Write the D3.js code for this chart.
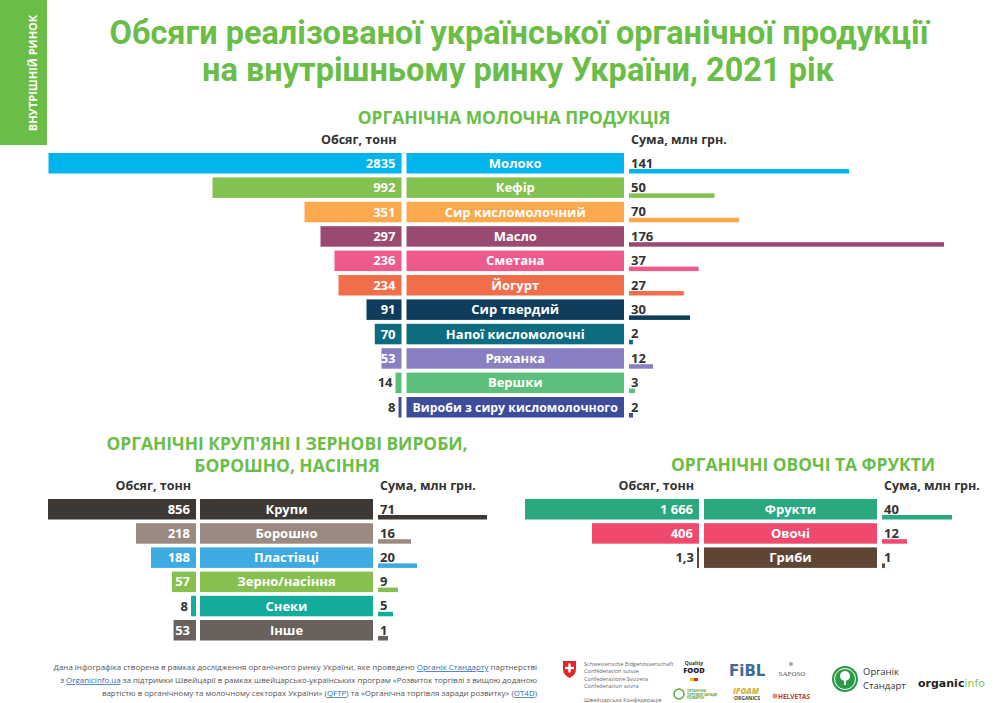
<!DOCTYPE html>
<html>
<head>
<meta charset="utf-8">
<script src="https://cdn.jsdelivr.net/npm/d3@7"></script>
<style>
  body { margin: 0; background: #fff; }
  svg { display: block; }
</style>
</head>
<body>
<svg id="chart" width="1000" height="703"></svg>
<script>
// --- Data ---
const dairyCats = ["Молоко", "Кефір", "Сир кисломолочний", "Масло", "Сметана", "Йогурт",
  "Сир твердий", "Напої кисломолочні", "Ряжанка", "Вершки", "Вироби з сиру кисломолочного"];
const dairyVolume = [2835, 992, 351, 297, 236, 234, 91, 70, 53, 14, 8];
const dairySum = [141, 50, 70, 176, 37, 27, 30, 2, 12, 3, 2];
const dairyColors = ["#00b4ec", "#83c150", "#fba94c", "#9a4a70", "#ef5a8d", "#f26e4b",
  "#0f3c5d", "#0e6c80", "#8a7fc3", "#5dbf7c", "#3d4c9b"];

const grainCats = ["Крупи", "Борошно", "Пластівці", "Зерно/насіння", "Снеки", "Інше"];
const grainVolume = [856, 218, 188, 57, 8, 53];
const grainSum = [71, 16, 20, 9, 5, 1];
const grainColors = ["#3e3834", "#9a8a82", "#3eaae2", "#86c150", "#13ac9a", "#6a615c"];

const fruitCats = ["Фрукти", "Овочі", "Гриби"];
const fruitVolume = [1666, 406, 1.3];
const fruitSum = [40, 12, 1];
const fruitColors = ["#2aa880", "#ef4a6e", "#5f4535"];

const GREEN = "#6abd46";
const FONT = "'Open Sans', 'Noto Sans', sans-serif";

const ukLocale = d3.formatLocale({ decimal: ",", thousands: "\u00a0", grouping: [3], currency: ["", ""] });

const svg = d3.select("#chart");

// side band
svg.append("rect").attr("x", 0).attr("y", 0).attr("width", 47).attr("height", 145).attr("fill", GREEN);
svg.append("text")
  .attr("transform", "translate(37,73) rotate(-90)")
  .attr("text-anchor", "middle")
  .attr("font-family", FONT).attr("font-weight", 700).attr("font-size", 11)
  .attr("fill", "#fff")
  .text("ВНУТРІШНІЙ РИНОК");

// main title
const title = svg.append("g").attr("font-family", "Roboto, sans-serif").attr("font-weight", 700)
  .attr("font-size", 32.5).attr("fill", GREEN).attr("text-anchor", "middle");
title.append("text").attr("x", 519).attr("y", 44).text("Обсяги реалізованої української органічної продукції");
title.append("text").attr("x", 518).attr("y", 81).text("на внутрішньому ринку України, 2021 рік");

// one butterfly block: volume bars to the left, label box, thin sum bars to the right
function drawBlock(opt) {
  const g = svg.append("g").attr("font-family", FONT);
  const n = opt.cats.length;
  const y = d3.scaleBand().domain(d3.range(n))
    .range([opt.top, opt.top + opt.step * (n - 1) + opt.barH])
    .paddingInner(1 - opt.barH / opt.step).paddingOuter(0);
  const bh = y.bandwidth();

  // the infographic's bars are hand-sized, so each block gets a piecewise scale
  const xl = d3.scaleLinear().domain(opt.volDomain).range(opt.volRange).clamp(true);
  const xr = d3.scaleLinear().domain(opt.sumDomain).range(opt.sumRange).clamp(true);
  const fmt = opt.fmt;

  // title lines
  opt.titleLines.forEach((t, i) => {
    g.append("text").attr("x", opt.titleX).attr("y", opt.titleY + i * 22)
      .attr("text-anchor", "middle").attr("font-weight", 700).attr("font-size", 17.4)
      .attr("fill", GREEN).text(t);
  });

  // column headers
  g.append("text").attr("x", opt.leftEnd - 5).attr("y", opt.top - 9)
    .attr("text-anchor", "end").attr("font-weight", 700).attr("font-size", 12.5)
    .attr("fill", "#333").text("Обсяг, тонн");
  g.append("text").attr("x", opt.rightStart + 2).attr("y", opt.top - 9)
    .attr("font-weight", 700).attr("font-size", 12.5)
    .attr("fill", "#333").text("Сума, млн грн.");

  const rows = g.selectAll("g.row").data(opt.cats.map((c, i) => ({
    cat: c, vol: opt.vol[i], sum: opt.sum[i], color: opt.colors[i], i
  }))).join("g").attr("class", "row")
    .attr("transform", d => `translate(0,${y(d.i)})`);

  // volume bar
  rows.append("rect")
    .attr("x", d => opt.leftEnd - xl(d.vol)).attr("y", 0)
    .attr("width", d => xl(d.vol)).attr("height", bh)
    .attr("fill", d => d.color);
  rows.append("text")
    .attr("x", d => xl(d.vol) > 18 ? opt.leftEnd - 6 : opt.leftEnd - xl(d.vol) - 3)
    .attr("y", bh / 2 + 4.5)
    .attr("text-anchor", "end").attr("font-weight", 700).attr("font-size", 13)
    .attr("fill", d => xl(d.vol) > 18 ? "#fff" : "#333")
    .text(d => fmt(d.vol));

  // category box
  const boxW = opt.labelX1 - opt.labelX0;
  rows.append("rect")
    .attr("x", opt.labelX0).attr("y", 0)
    .attr("width", boxW).attr("height", bh)
    .attr("fill", d => d.color);
  rows.append("text")
    .attr("x", (opt.labelX0 + opt.labelX1) / 2).attr("y", bh / 2 + 4.5)
    .attr("text-anchor", "middle").attr("font-weight", 700).attr("font-size", 13)
    .attr("fill", "#fff").text(d => d.cat)
    .each(function () {
      // shrink long names so they keep a small margin inside the box
      const len = this.getComputedTextLength();
      if (len > boxW - 12) d3.select(this).attr("font-size", 13 * (boxW - 12) / len);
    });

  // sum bar (thin, on the bottom edge)
  rows.append("rect")
    .attr("x", opt.rightStart).attr("y", bh - 4.5)
    .attr("width", d => Math.max(3, xr(d.sum))).attr("height", 4.5)
    .attr("fill", d => d.color);
  rows.append("text")
    .attr("x", opt.rightStart + 2).attr("y", bh - 6)
    .attr("font-weight", 700).attr("font-size", 13)
    .attr("fill", "#333").text(d => ukLocale.format("~g")(d.sum));
}

drawBlock({
  cats: dairyCats, vol: dairyVolume, sum: dairySum, colors: dairyColors,
  top: 153, step: 24.4, barH: 20.5,
  leftEnd: 401.5, labelX0: 406.5, labelX1: 624, rightStart: 629,
  volDomain: [0, 8, 14, 53, 91, 234, 236, 297, 351, 992, 2835],
  volRange: [0, 3, 6, 20, 35, 63, 67, 81, 97, 189, 353],
  sumDomain: [0, 3, 12, 30, 70, 141, 176],
  sumRange: [0, 6, 24, 61, 110, 220, 315],
  fmt: ukLocale.format("~g"),
  titleLines: ["ОРГАНІЧНА МОЛОЧНА ПРОДУКЦІЯ"], titleX: 514, titleY: 124
});

drawBlock({
  cats: grainCats, vol: grainVolume, sum: grainSum, colors: grainColors,
  top: 499, step: 24.2, barH: 20.5,
  leftEnd: 196, labelX0: 200, labelX1: 373, rightStart: 378,
  volDomain: [0, 8, 57, 188, 218, 856],
  volRange: [0, 5, 24, 45, 60, 148],
  sumDomain: [0, 1, 9, 16, 20, 71],
  sumRange: [0, 10, 20, 33, 39, 109],
  fmt: ukLocale.format("~g"),
  titleLines: ["ОРГАНІЧНІ КРУП'ЯНІ І ЗЕРНОВІ ВИРОБИ,", "БОРОШНО, НАСІННЯ"], titleX: 287, titleY: 450
});

drawBlock({
  cats: fruitCats, vol: fruitVolume, sum: fruitSum, colors: fruitColors,
  top: 499, step: 24.2, barH: 20.5,
  leftEnd: 699, labelX0: 704, labelX1: 877, rightStart: 882,
  volDomain: [0, 1.3, 406, 1666],
  volRange: [0, 2, 107, 174],
  sumDomain: [0, 1, 12, 40],
  sumRange: [0, 2, 25, 70],
  fmt: ukLocale.format(",~g"),
  titleLines: ["ОРГАНІЧНІ ОВОЧІ ТА ФРУКТИ"], titleX: 803, titleY: 471
});

// --- footer note ---
const note = [
  [["Дана інфографіка створена в рамках дослідження органічного ринку України, яке проведено "], ["Органік Стандарту", 1], [" партнерстві"]],
  [["з "], ["Organicinfo.ua", 1], [" за підтримки Швейцарії в рамках швейцарсько-українських програм «Розвиток торгівлі з вищою доданою"]],
  [["вартістю в органічному та молочному секторах України» ("], ["QFTP", 1], [") та «Органічна торгівля заради розвитку» ("], ["OT4D", 1], [")"]]
];
const noteG = svg.append("g").attr("font-family", FONT).attr("font-size", 7.95).attr("fill", "#555");
note.forEach((line, i) => {
  const t = noteG.append("text").attr("x", 537).attr("y", 670 + i * 13).attr("text-anchor", "end");
  line.forEach(([s, link]) => {
    const ts = t.append("tspan").text(s);
    if (link) ts.attr("fill", "#2f6db5").attr("text-decoration", "underline");
  });
});

// --- partner logos (simplified) ---
const logos = svg.append("g").attr("font-family", FONT);
logos.append("path").attr("d", "M563,661 h13 v8 q0,6 -6.5,9 q-6.5,-3 -6.5,-9 z").attr("fill", "#e3242b");
logos.append("rect").attr("x", 568.3).attr("y", 663.5).attr("width", 2.4).attr("height", 9).attr("fill", "#fff");
logos.append("rect").attr("x", 565).attr("y", 666.8).attr("width", 9).attr("height", 2.4).attr("fill", "#fff");
["Schweizerische Eidgenossenschaft", "Confédération suisse", "Confederazione Svizzera", "Confederaziun svizra"]
  .forEach((s, i) => logos.append("text").attr("x", 584).attr("y", 666 + i * 7.3)
    .attr("font-size", 5.6).attr("fill", "#666").text(s));
logos.append("text").attr("x", 584).attr("y", 702).attr("font-size", 5.6).attr("fill", "#666").text("Швейцарська Конфедерація");

logos.append("text").attr("x", 694).attr("y", 665).attr("text-anchor", "middle").attr("font-size", 5).attr("font-weight", 700).attr("fill", "#333").text("Quality");
logos.append("text").attr("x", 694).attr("y", 673).attr("text-anchor", "middle").attr("font-size", 7.5).attr("font-weight", 800).attr("fill", "#222").text("FOOD");
logos.append("rect").attr("x", 690).attr("y", 678).attr("width", 4).attr("height", 3).attr("fill", "#f2c500");
logos.append("rect").attr("x", 694).attr("y", 678).attr("width", 4).attr("height", 3).attr("fill", "#d62b2b");
logos.append("circle").attr("cx", 679).attr("cy", 694).attr("r", 5).attr("fill", "none").attr("stroke", "#5aa83c").attr("stroke-width", 1.5);
["ОРГАНІЧНА", "ТОРГІВЛЯ ЗАРАДИ", "РОЗВИТКУ"].forEach((s, i) =>
  logos.append("text").attr("x", 687).attr("y", 692 + i * 3.5).attr("font-size", 3.2).attr("font-weight", 700).attr("fill", "#5aa83c").text(s));

logos.append("text").attr("x", 729).attr("y", 676).attr("font-family", "'DejaVu Sans', sans-serif").attr("font-size", 15).attr("font-weight", 700).attr("fill", "#3d6b98").text("FiBL");
logos.append("text").attr("x", 733).attr("y", 694).attr("font-size", 8).attr("font-weight", 800).attr("font-style", "italic").attr("fill", "#d6b23a").text("IFOAM");
logos.append("text").attr("x", 734).attr("y", 700).attr("font-size", 5).attr("font-weight", 700).attr("fill", "#444").text("ORGANICS");

logos.append("circle").attr("cx", 791).attr("cy", 664).attr("r", 2).attr("fill", "#aaa");
logos.append("text").attr("x", 792).attr("y", 676).attr("text-anchor", "middle").attr("font-family", "'Liberation Serif', serif").attr("font-size", 7).attr("fill", "#555").text("SAFOSO");
logos.append("text").attr("x", 778).attr("y", 699).attr("font-size", 6.5).attr("font-weight", 700).attr("fill", "#c0392b").text("HELVETAS");
logos.append("circle").attr("cx", 775).attr("cy", 696).attr("r", 2.5).attr("fill", "#e68a8a");

logos.append("circle").attr("cx", 845).attr("cy", 679).attr("r", 13).attr("fill", "#2b9b48");
logos.append("circle").attr("cx", 845).attr("cy", 679).attr("r", 10.5).attr("fill", "none").attr("stroke", "#fff").attr("stroke-width", 1);
logos.append("circle").attr("cx", 845).attr("cy", 676).attr("r", 5).attr("fill", "#fff");
logos.append("rect").attr("x", 844).attr("y", 678).attr("width", 2).attr("height", 7).attr("fill", "#fff");
logos.append("text").attr("x", 863).attr("y", 675).attr("font-size", 9.5).attr("fill", "#333").text("Органік");
logos.append("text").attr("x", 863).attr("y", 689).attr("font-size", 9.5).attr("fill", "#333").text("Стандарт");

const oi = logos.append("text").attr("x", 918).attr("y", 687).attr("font-family", "'DejaVu Sans', sans-serif").attr("font-size", 11).attr("font-weight", 700);
oi.append("tspan").attr("fill", "#222").text("organic");
oi.append("tspan").attr("fill", "#7fc25a").attr("font-weight", 400).text("info");
</script>
</body>
</html>
